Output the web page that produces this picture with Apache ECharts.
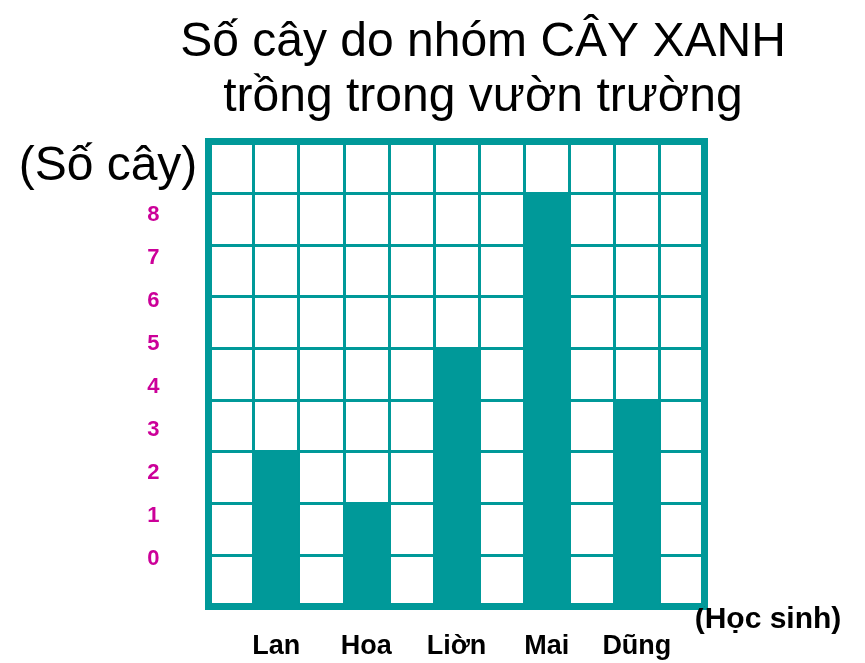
<!DOCTYPE html>
<html>
<head>
<meta charset="utf-8">
<script src="https://cdn.jsdelivr.net/npm/echarts@6/dist/echarts.min.js"></script>
<style>
  html, body { margin: 0; padding: 0; background: #ffffff; }
  #chart { width: 865px; height: 663px; }
</style>
</head>
<body>
<div id="chart"></div>
<script>
// ---- data ----
const titleLines = ['Số cây do nhóm CÂY XANH', 'trồng trong vườn trường'];
const students = ['Lan', 'Hoa', 'Liờn', 'Mai', 'Dũng'];
const treeCounts = [3, 2, 5, 8, 4];           // bar heights in grid rows
const yTickLabels = ['0', '1', '2', '3', '4', '5', '6', '7', '8'];
const yAxisTitle = '(Số cây)';
const xAxisTitle = '(Học sinh)';
const gridRows = 9;
const gridCols = 11;

// ---- build ----
const TEAL = '#009999';
const MAGENTA = '#CC0099';
const FONT = '"Liberation Sans", Arial, sans-serif';

const categories = [];
const barData = [];
for (let i = 0; i < gridCols; i++) {
  if (i % 2 === 1 && (i - 1) / 2 < students.length) {
    const k = (i - 1) / 2;
    categories.push(students[k]);
    barData.push(treeCounts[k]);
  } else {
    categories.push('');
    barData.push(null);
  }
}

const chart = echarts.init(document.getElementById('chart'), null, { renderer: 'canvas' });
chart.setOption({
  animation: false,
  backgroundColor: '#ffffff',
  title: {
    text: titleLines.join('\n'),
    left: 478,
    top: 10,
    textAlign: 'center',
    textStyle: { fontFamily: FONT, fontSize: 48, fontWeight: 'normal', color: '#000', lineHeight: 55 }
  },
  grid: [
    { left: 208.5, right: 160.5, top: 141.5, bottom: 56.5, show: true, borderColor: TEAL, borderWidth: 7, backgroundColor: '#ffffff', containLabel: false },
    { left: 208.5, width: 10, top: 215, bottom: 104, show: false, containLabel: false }
  ],
  xAxis: [
    {
      gridIndex: 0, type: 'category', data: categories, boundaryGap: true,
      axisLine: { show: false }, axisTick: { show: false },
      splitLine: { show: true, interval: 0, lineStyle: { color: TEAL, width: 3 } },
      axisLabel: { interval: 0, margin: 27, fontFamily: FONT, fontSize: 27, fontWeight: 'bold', color: '#000', lineHeight: 27 }
    },
    { gridIndex: 1, type: 'value', show: false }
  ],
  yAxis: [
    {
      gridIndex: 0, type: 'value', min: 0, max: gridRows, interval: 1,
      axisLine: { show: false }, axisTick: { show: false }, axisLabel: { show: false },
      splitLine: { show: true, lineStyle: { color: TEAL, width: 3 } }
    },
    {
      gridIndex: 1, type: 'category', data: yTickLabels, boundaryGap: false, position: 'left',
      axisLine: { show: false }, axisTick: { show: false }, splitLine: { show: false },
      axisLabel: { interval: 0, margin: 49, fontFamily: FONT, fontSize: 22, fontWeight: 'bold', color: MAGENTA }
    }
  ],
  graphic: [
    { type: 'text', x: 108, y: 167, silent: true,
      style: { text: yAxisTitle, fill: '#000', font: '48px ' + FONT, align: 'center', verticalAlign: 'middle' } },
    { type: 'text', x: 768, y: 620, silent: true,
      style: { text: xAxisTitle, fill: '#000', font: 'bold 30px ' + FONT, align: 'center', verticalAlign: 'middle' } }
  ],
  series: [
    {
      type: 'bar', xAxisIndex: 0, yAxisIndex: 0, data: barData,
      barWidth: '100%', barGap: 0, silent: true,
      itemStyle: { color: TEAL }
    }
  ]
});
</script>
</body>
</html>
